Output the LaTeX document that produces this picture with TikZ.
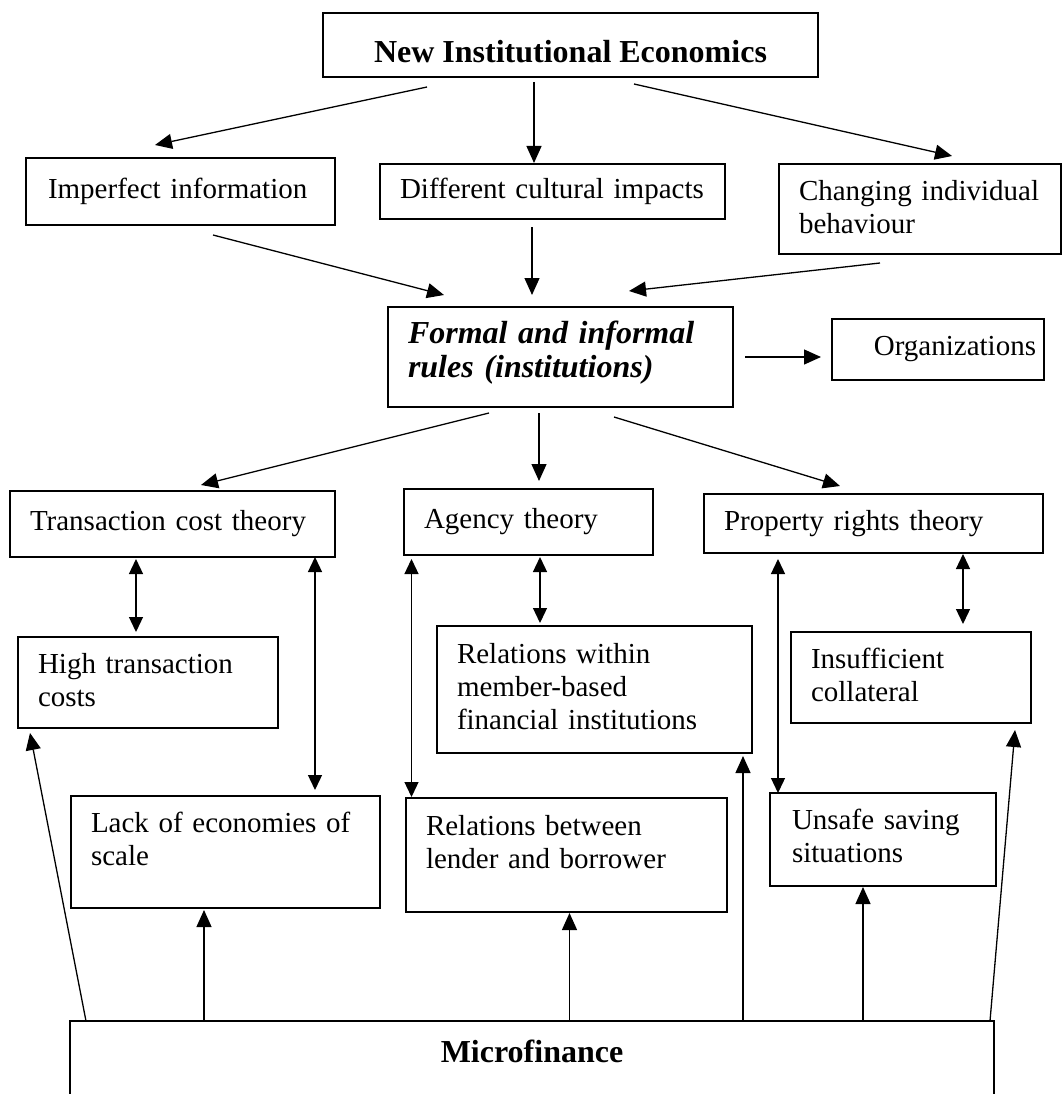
\documentclass[tikz,border=0pt]{standalone}
\usepackage{fontspec}
\setmainfont{Liberation Serif}
\usetikzlibrary{arrows.meta}

\begin{document}
\begin{tikzpicture}[x = 1pt, y = -1pt,
  box/.style = {draw, line width = 1.5pt, anchor = north west, outer sep = 0pt,
    inner xsep = 20pt, inner ysep = 0pt, align = left, text depth = 7pt,
    font = \fontsize{29pt}{33pt}\selectfont},
  head/.style = {draw, line width = 1.6pt, anchor = north west, outer sep = 0pt,
    font = \bfseries\fontsize{32pt}{34pt}\selectfont},
  arr/.style = {-{Triangle[length = 17pt, width = 15pt]}, line width = 1.3pt},
  dbl/.style = {{Triangle[length = 15pt, width = 14pt]}-{Triangle[length = 15pt, width = 14pt]}, line width = 1.3pt}]

\useasboundingbox (0, 0) rectangle (1063, 1094);

\node[head, minimum width = 495pt, minimum height = 64pt, text height = 36pt, text depth = 0pt] (nie) at (323, 13) {New Institutional Economics};

\node[box, text width = 265pt, minimum height = 67pt, inner xsep = 22pt] (imp) at (26, 158) {Imperfect information};
\node[box, text width = 305pt, minimum height = 55pt] (cult) at (380, 164) {Different cultural impacts};
\node[box, text width = 242pt, minimum height = 90pt, text depth = 38pt] (chg) at (779, 164) {Changing individual\\behaviour};

\node[box, text width = 305pt, minimum height = 100pt, text depth = 50pt, font = \bfseries\itshape\fontsize{32pt}{34pt}\selectfont] (rules) at (388, 307) {Formal and informal\\rules (institutions)};
\node[box, text width = 196pt, minimum height = 61pt, inner xsep = 8pt, align = right] (org) at (832, 319) {Organizations};

\node[box, text width = 285pt, minimum height = 66pt] (tct) at (10, 491) {Transaction cost theory};
\node[box, text width = 209pt, minimum height = 66pt] (agt) at (404, 489) {Agency theory};
\node[box, text width = 299pt, minimum height = 59pt] (prt) at (704, 494) {Property rights theory};

\node[box, text width = 220pt, minimum height = 91pt, text depth = 39pt] (htc) at (18, 637) {High transaction\\costs};
\node[box, text width = 275pt, minimum height = 127pt, text depth = 73pt] (rwm) at (437, 626) {Relations within\\member-based\\financial institutions};
\node[box, text width = 200pt, minimum height = 91pt, text depth = 39pt] (col) at (791, 632) {Insufficient\\collateral};

\node[box, text width = 269pt, minimum height = 112pt, text depth = 60pt] (eco) at (71, 796) {Lack of economies of\\scale};
\node[box, text width = 281pt, minimum height = 114pt, text depth = 60pt] (rlb) at (406, 798) {Relations between\\lender and borrower};
\node[box, text width = 182pt, minimum height = 93pt, inner xsep = 22pt, text depth = 41pt] (uss) at (770, 793) {Unsafe saving\\situations};

\node[head, line width = 1.8pt, minimum width = 924pt, inner ysep = 19pt, text height = 22pt, text depth = 60pt] (mf) at (70, 1021) {Microfinance};

\draw[arr] ([xshift = 104pt, yshift = -10pt]nie.south west) -- ([xshift = 129pt, yshift = 13pt]imp.north west);
\draw[arr] ([xshift = 211pt, yshift = -5pt]nie.south west) -- ([xshift = 154pt, yshift = 1pt]cult.north west);
\draw[arr] ([xshift = 311pt, yshift = -7pt]nie.south west) -- ([xshift = 173pt, yshift = 8pt]chg.north west);

\draw[arr] ([xshift = 187pt, yshift = -10pt]imp.south west) -- ([xshift = 56pt, yshift = 12pt]rules.north west);
\draw[arr] ([xshift = 152pt, yshift = -8pt]cult.south west) -- ([xshift = 144pt, yshift = 12pt]rules.north west);
\draw[arr] ([xshift = 101pt, yshift = -9pt]chg.south west) -- ([xshift = 241pt, yshift = 16pt]rules.north west);

\draw[arr] ([xshift = 12pt]rules.east) -- ([xshift = -11pt, yshift = -7.5pt]org.west);

\draw[arr] ([xshift = 101pt, yshift = -6pt]rules.south west) -- ([xshift = 191pt, yshift = 6pt]tct.north west);
\draw[arr] ([xshift = 151pt, yshift = -6pt]rules.south west) -- ([xshift = 135pt, yshift = 8pt]agt.north west);
\draw[arr] ([xshift = 226pt, yshift = -10pt]rules.south west) -- ([xshift = 136pt, yshift = 8pt]prt.north west);

\draw[dbl] ([xshift = 126pt, yshift = -2pt]tct.south west) -- ([xshift = 118pt, yshift = 5pt]htc.north west);
\draw[dbl] ([xshift = 305pt]tct.south west) -- ([xshift = 244pt, yshift = 6pt]eco.north west);
\draw[dbl] ([xshift = 7.5pt, yshift = -4pt]agt.south west) -- ([xshift = 5.5pt, yshift = 1pt]rlb.north west);
\draw[dbl] ([xshift = 136pt, yshift = -2pt]agt.south west) -- ([xshift = 103pt, yshift = 3pt]rwm.north west);
\draw[dbl] ([xshift = 74pt, yshift = -6pt]prt.south west) -- ([xshift = 8pt]uss.north west);
\draw[dbl] ([xshift = 259pt, yshift = -1pt]prt.south west) -- ([xshift = 172pt, yshift = 8pt]col.north west);

\draw[arr] ([xshift = 16pt]mf.north west) -- ([xshift = 12pt, yshift = -5pt]htc.south west);
\draw[arr] ([xshift = 134pt]mf.north west) -- ([xshift = 133pt, yshift = -2pt]eco.south west);
\draw[arr] ([xshift = 499.5pt]mf.north west) -- ([xshift = 163.5pt, yshift = -1pt]rlb.south west);
\draw[arr] ([xshift = 673pt]mf.north west) -- ([xshift = 306pt, yshift = -3pt]rwm.south west);
\draw[arr] ([xshift = 793pt]mf.north west) -- ([xshift = 93pt, yshift = -1pt]uss.south west);
\draw[arr] ([xshift = 920pt]mf.north west) -- ([xshift = 224pt, yshift = -7pt]col.south west);

\end{tikzpicture}
\end{document}
